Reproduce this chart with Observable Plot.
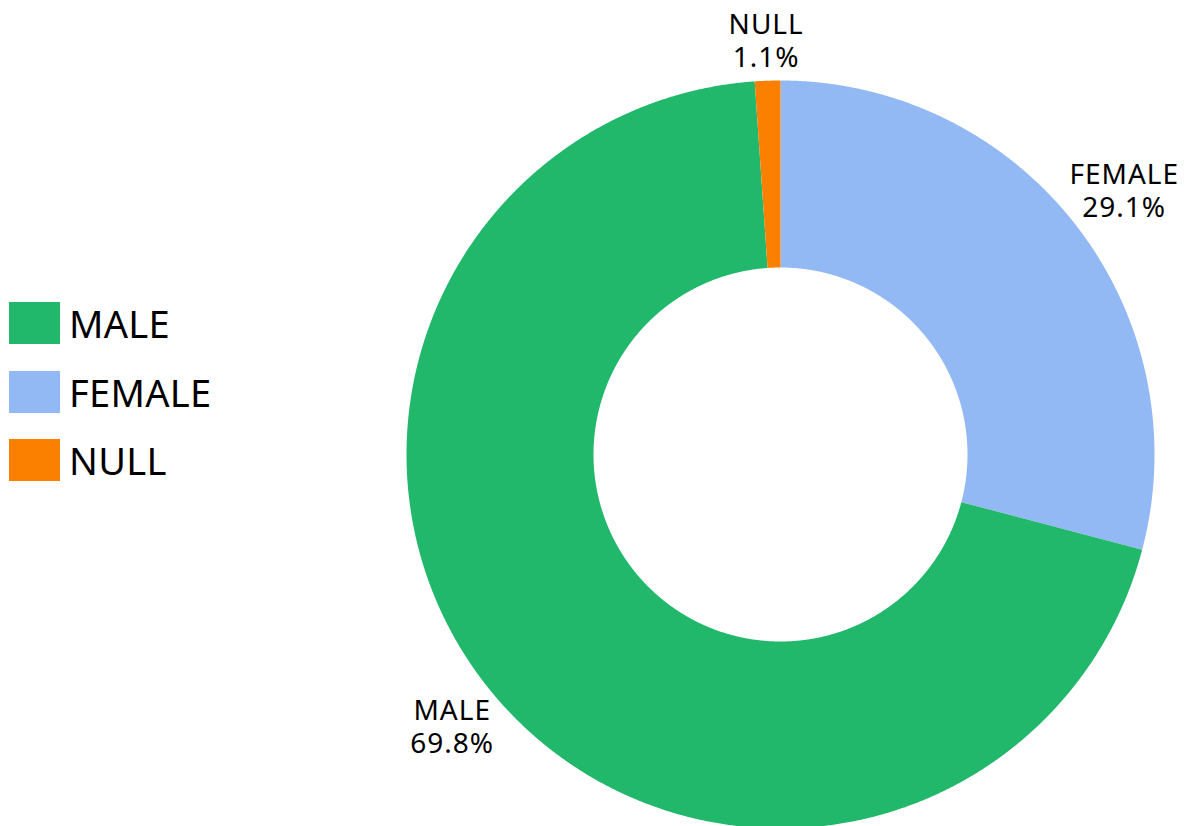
<!DOCTYPE html>
<html><head><meta charset="utf-8">
<script src="https://cdn.jsdelivr.net/npm/d3@7"></script>
<script src="https://cdn.jsdelivr.net/npm/@observablehq/plot@0.6"></script>
<style>
body{margin:0;background:#fff;font-family:"Noto Sans",sans-serif}
#wrap{position:relative;width:1186px;height:826px;overflow:hidden}
#wrap svg text{letter-spacing:1px}
#legend{position:absolute;left:9px;top:302px}
.item{display:flex;align-items:center;height:42px;margin-bottom:26.5px}
.sw{width:51px;height:42px;margin-right:9px}
.lab{font-size:38px;color:#000;line-height:42px;letter-spacing:0.3px}
</style></head><body><div id="wrap"><div id="legend"></div></div>
<script>
// Data
const categories = ["MALE", "FEMALE", "NULL"];
const shares = [69.8, 29.1, 1.1];
const colors = ["#22b86b", "#93b9f4", "#fb8000"];
const sliceOrder = ["FEMALE", "MALE", "NULL"]; // clockwise from 12 o'clock

// Layout
const W = 1186, H = 826, cx = 780, cy = 454, R = 374, innerRatio = 0.5;
const labelFont = 28, labelGap = 2;

const table = sliceOrder.map(k => ({key: k, value: shares[categories.indexOf(k)]}));
const arcs = d3.pie().sort(null).value(d => d.value)(table);

const pts = [];
for (const a of arcs) {
  const n = Math.max(2, Math.ceil((a.endAngle - a.startAngle) / 0.004));
  for (let i = 0; i <= n; i++) {
    const t = a.startAngle + (a.endAngle - a.startAngle) * i / n;
    pts.push({key: a.data.key, x: Math.sin(t), y: Math.cos(t)});
  }
  for (let i = n; i >= 0; i--) {
    const t = a.startAngle + (a.endAngle - a.startAngle) * i / n;
    pts.push({key: a.data.key, x: innerRatio * Math.sin(t), y: innerRatio * Math.cos(t)});
  }
}

const ctx = document.createElement("canvas").getContext("2d");
ctx.font = `${labelFont}px "Noto Sans"`;
const tw = s => ctx.measureText(s).width + s.length * 1;
const labels = arcs.map(a => {
  const m = (a.startAngle + a.endAngle) / 2;
  const txt1 = a.data.key, txt2 = a.data.value.toFixed(1) + "%";
  const hw = 0.8 * Math.max(tw(txt1), tw(txt2)) / 2;
  const hh = labelFont * 1.18 + 5;
  const ext = Math.abs(Math.sin(m)) * hw + Math.abs(Math.cos(m)) * hh;
  const d = (R + labelGap + ext) / R;
  return {x: d * Math.sin(m), y: d * Math.cos(m), text: txt1 + "\n" + txt2};
});

const chart = Plot.plot({
  width: W, height: H, margin: 0,
  style: {fontFamily: "Noto Sans", background: "#fff", overflow: "visible"},
  x: {domain: [-1, 1], range: [cx - R, cx + R], axis: null},
  y: {domain: [-1, 1], range: [cy + R, cy - R], axis: null},
  color: {domain: categories, range: colors},
  marks: [
    Plot.line(pts, {x: "x", y: "y", z: "key", fill: "key", stroke: "none", curve: "linear-closed"}),
    Plot.text(labels, {x: "x", y: "y", text: "text", fontSize: labelFont, lineHeight: 1.18, fill: "#000"})
  ]
});
document.getElementById("wrap").prepend(chart);

const legend = document.getElementById("legend");
categories.forEach((c, i) => {
  const it = document.createElement("div"); it.className = "item";
  const sw = document.createElement("div"); sw.className = "sw"; sw.style.background = colors[i];
  const lb = document.createElement("div"); lb.className = "lab"; lb.textContent = c;
  it.append(sw, lb); legend.append(it);
});
</script></body></html>
